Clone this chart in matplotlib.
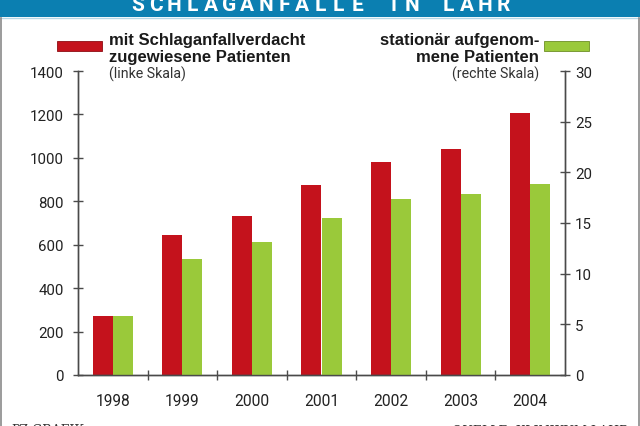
import numpy as np
import matplotlib
matplotlib.use("Agg")
import matplotlib.pyplot as plt
from matplotlib.patches import Rectangle
from matplotlib.lines import Line2D

# -------------------------------
# DATA
# -------------------------------
years = ["1998", "1999", "2000", "2001", "2002", "2003", "2004"]
suspected = [272, 643, 731, 876, 981, 1041, 1205]       # linke Skala
admitted = [5.8, 11.4, 13.1, 15.5, 17.4, 17.9, 18.8]    # rechte Skala
left_ticks = [0, 200, 400, 600, 800, 1000, 1200, 1400]
right_ticks = [0, 5, 10, 15, 20, 25, 30]

title = "SCHLAGANFÄLLE IN LAHR"
label_red = ["mit Schlaganfallverdacht", "zugewiesene Patienten", "(linke Skala)"]
label_green = ["stationär aufgenom-", "mene Patienten", "(rechte Skala)"]

RED = "#c4121c"
GREEN = "#9ac93a"
BLUE = "#0b7fb1"
AXC = "#4a4a4a"
NARROW = ["Roboto", "DejaVu Sans"]
BOLD = ["Liberation Sans", "DejaVu Sans"]

W, H = 640, 427
fig = plt.figure(figsize=(6.4, 4.27), dpi=100)

def fx(px):
    return px / W

def fy(py):
    return 1 - py / H

# -------------------------------
# HEADER BANNER
# -------------------------------
fig.patches.append(Rectangle((0, fy(17.5)), 1, 17.5 / H, transform=fig.transFigure,
                             facecolor=BLUE, edgecolor="none", zorder=0))
fig.lines.append(Line2D([0, 1], [fy(18.5), fy(18.5)], transform=fig.transFigure,
                        color="#b5d7e6", lw=1))
# frame left/right
fig.lines.append(Line2D([fx(0.8), fx(0.8)], [0, fy(18.5)], transform=fig.transFigure,
                        color="#8a8a8a", lw=1.2))
fig.lines.append(Line2D([fx(638.5), fx(638.5)], [0, fy(18.5)], transform=fig.transFigure,
                        color="#8a8a8a", lw=1.2))

# title sits partly above the top edge, as in the original
chars = list(title)
pitch = 18.3
start = 320.5 - pitch * (len(chars) - 1) / 2
for i, ch in enumerate(chars):
    if ch == " ":
        continue
    fig.text(fx(start + i * pitch), fy(10.7), ch, color="white", fontsize=15,
             fontweight="bold", family=NARROW, ha="center", va="baseline")

# -------------------------------
# AXES
# -------------------------------
ax = fig.add_axes([fx(78), fy(376), fx(565) - fx(78), fy(72) - fy(376)])
ax2 = ax.twinx()

x = np.arange(len(years))
bw = 0.288
ax.bar(x - bw / 2, suspected, width=bw, color=RED, edgecolor="none", zorder=2)
ax2.bar(x + bw / 2, admitted, width=bw, color=GREEN, edgecolor="none", zorder=2)

ax.set_xlim(-0.5, 6.5)
ax.set_ylim(0, 1400)
ax2.set_ylim(0, 30)

for a in (ax, ax2):
    a.patch.set_visible(False)
    a.spines["top"].set_visible(False)
    for s in ("left", "right", "bottom"):
        a.spines[s].set_color(AXC)
        a.spines[s].set_linewidth(1)

ax.set_yticks(left_ticks)
ax.set_yticklabels([str(t) for t in left_ticks], family=NARROW, fontsize=10.8)
ax.tick_params(axis="y", direction="inout", length=6.5, width=1, color=AXC, pad=7,
               labelcolor="#222222")
ax2.set_yticks(right_ticks)
ax2.set_yticklabels([str(t) for t in right_ticks], family=NARROW, fontsize=10.8)
ax2.tick_params(axis="y", direction="inout", length=6.5, width=1, color=AXC, pad=4,
                labelcolor="#222222")

ax.set_xticks(np.arange(0.5, 6, 1))
ax.set_xticklabels([])
ax.tick_params(axis="x", which="major", direction="inout", length=6.5, width=1, color=AXC)
ax.set_xticks(x, minor=True)
ax.set_xticklabels(years, minor=True, family=NARROW, fontsize=11.2, color="#222222")
ax.tick_params(axis="x", which="minor", length=0, pad=13)

# -------------------------------
# LEGEND (drawn by hand)
# -------------------------------
fig.patches.append(Rectangle((fx(57), fy(52)), fx(102) - fx(57), 10 / H,
                             transform=fig.transFigure, facecolor=RED,
                             edgecolor="#8e0c12", lw=0.6))
fig.patches.append(Rectangle((fx(544), fy(52)), fx(589) - fx(544), 10 / H,
                             transform=fig.transFigure, facecolor=GREEN,
                             edgecolor="#6d8f25", lw=0.6))

for i, (txt, base) in enumerate(zip(label_red, [45, 62, 79])):
    if i < 2:
        fig.text(fx(109), fy(base), txt, fontsize=12, fontweight="bold",
                 family=BOLD, color="#1a1a1a", ha="left", va="baseline")
    else:
        fig.text(fx(109), fy(base), txt, fontsize=10.2, family=NARROW,
                 color="#333333", ha="left", va="baseline")

for i, (txt, base) in enumerate(zip(label_green, [45, 62, 79])):
    if i < 2:
        fig.text(fx(539), fy(base), txt, fontsize=12, fontweight="bold",
                 family=BOLD, color="#1a1a1a", ha="right", va="baseline")
    else:
        fig.text(fx(539), fy(base), txt, fontsize=10.2, family=NARROW,
                 color="#333333", ha="right", va="baseline")

# -------------------------------
# CREDITS (cut at bottom edge)
# -------------------------------
fig.text(fx(11), fy(424), "PZ-GRAFIK", fontsize=9, family=["DejaVu Serif"],
         color="#333333", ha="left", va="top")
fig.text(fx(629), fy(424), "QUELLE: KLINIKUM LAHR", fontsize=9,
         family=["DejaVu Serif"], color="#333333", ha="right", va="top")

fig.savefig("out.png", dpi=100)
